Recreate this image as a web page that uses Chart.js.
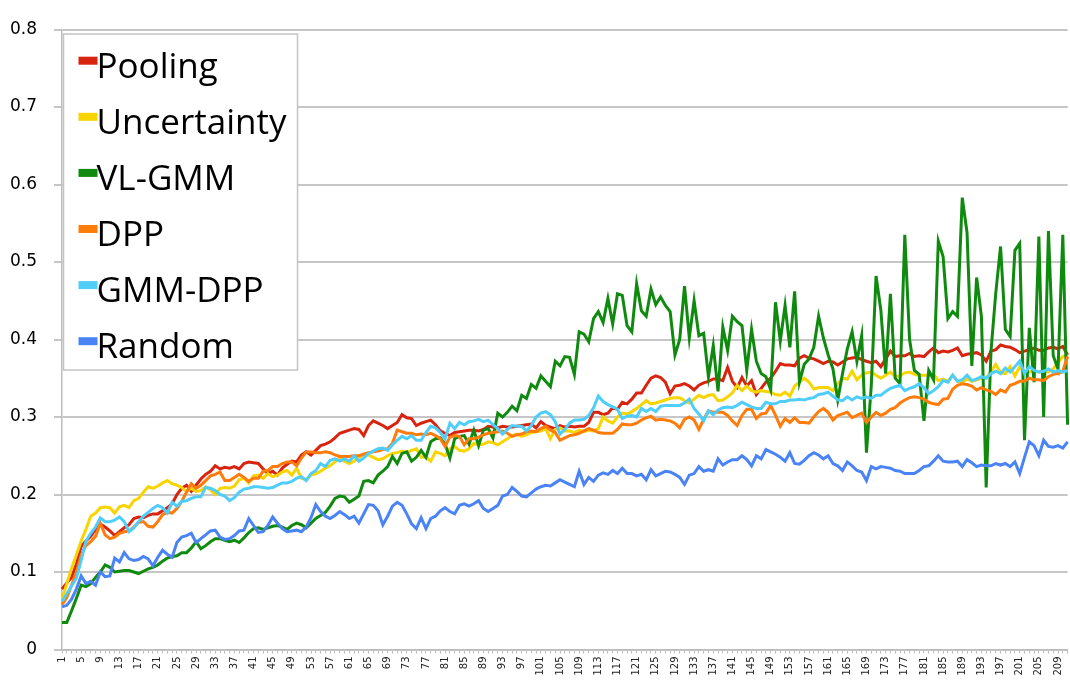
<!DOCTYPE html>
<html>
<head>
<meta charset="utf-8">
<script src="https://cdn.jsdelivr.net/npm/chart.js@4.4.0/dist/chart.umd.min.js"></script>
<style>
  html, body { margin: 0; padding: 0; background: #fff; }
  #wrap { width: 1070px; height: 682px; }
</style>
</head>
<body>
<div id="wrap"><canvas id="chart" width="1070" height="682"></canvas></div>
<script>
// categories 1..211, every 4th one gets a tick label
const categories = Array.from({ length: 211 }, (_, i) => String(i + 1));
const yTicks = [0, 0.1, 0.2, 0.3, 0.4, 0.5, 0.6, 0.7, 0.8];

const pooling = [
  0.078,0.086,0.093,0.110,0.133,0.140,0.146,0.155,0.162,0.158,
  0.153,0.147,0.152,0.157,0.161,0.169,0.171,0.170,0.173,0.175,
  0.175,0.179,0.183,0.188,0.200,0.208,0.212,0.204,0.212,0.220,
  0.226,0.230,0.237,0.233,0.235,0.234,0.236,0.233,0.240,0.242,
  0.241,0.240,0.233,0.227,0.230,0.225,0.234,0.239,0.243,0.242,
  0.251,0.255,0.251,0.257,0.263,0.265,0.268,0.273,0.279,0.281,
  0.283,0.285,0.284,0.276,0.289,0.295,0.292,0.289,0.285,0.289,
  0.293,0.303,0.299,0.298,0.289,0.292,0.294,0.296,0.290,0.282,
  0.279,0.276,0.280,0.281,0.282,0.283,0.283,0.282,0.284,0.288,
  0.287,0.286,0.288,0.287,0.287,0.288,0.289,0.290,0.291,0.286,
  0.294,0.289,0.287,0.285,0.289,0.287,0.288,0.287,0.288,0.288,
  0.293,0.306,0.306,0.303,0.305,0.312,0.310,0.319,0.317,0.323,
  0.331,0.331,0.341,0.350,0.353,0.351,0.345,0.330,0.340,0.341,
  0.343,0.340,0.335,0.341,0.344,0.346,0.349,0.349,0.347,0.364,
  0.346,0.338,0.351,0.340,0.347,0.329,0.337,0.345,0.350,0.359,
  0.369,0.367,0.367,0.366,0.376,0.379,0.376,0.375,0.372,0.369,
  0.372,0.371,0.367,0.371,0.375,0.376,0.377,0.374,0.372,0.370,
  0.372,0.365,0.375,0.385,0.378,0.379,0.379,0.382,0.378,0.379,
  0.378,0.384,0.389,0.383,0.385,0.384,0.386,0.389,0.379,0.381,
  0.382,0.383,0.380,0.372,0.385,0.387,0.393,0.391,0.390,0.387,
  0.383,0.385,0.387,0.389,0.386,0.386,0.389,0.390,0.388,0.391,
  0.380
];
const uncertainty = [
  0.065,0.085,0.105,0.122,0.140,0.155,0.172,0.176,0.183,0.184,
  0.183,0.176,0.184,0.186,0.183,0.192,0.195,0.203,0.210,0.208,
  0.211,0.215,0.218,0.214,0.212,0.209,0.204,0.208,0.204,0.205,
  0.210,0.206,0.200,0.208,0.209,0.208,0.211,0.219,0.221,0.215,
  0.224,0.225,0.221,0.227,0.223,0.225,0.229,0.231,0.225,0.234,
  0.221,0.219,0.225,0.227,0.230,0.234,0.237,0.242,0.248,0.243,
  0.240,0.243,0.248,0.252,0.251,0.248,0.245,0.246,0.250,0.253,
  0.254,0.256,0.254,0.257,0.259,0.248,0.248,0.243,0.255,0.253,
  0.250,0.259,0.262,0.257,0.256,0.259,0.266,0.264,0.265,0.268,
  0.267,0.264,0.268,0.272,0.276,0.278,0.275,0.277,0.280,0.281,
  0.282,0.285,0.272,0.284,0.286,0.282,0.282,0.280,0.283,0.281,
  0.283,0.282,0.285,0.300,0.295,0.292,0.300,0.305,0.304,0.307,
  0.311,0.316,0.321,0.317,0.318,0.320,0.322,0.324,0.325,0.325,
  0.321,0.318,0.323,0.328,0.325,0.328,0.329,0.321,0.322,0.326,
  0.331,0.341,0.334,0.340,0.334,0.332,0.334,0.333,0.332,0.329,
  0.328,0.332,0.327,0.340,0.345,0.350,0.345,0.336,0.338,0.338,
  0.338,0.334,0.343,0.350,0.349,0.359,0.348,0.354,0.357,0.358,
  0.354,0.350,0.354,0.358,0.352,0.353,0.357,0.358,0.355,0.354,
  0.354,0.354,0.355,0.347,0.349,0.346,0.354,0.346,0.345,0.349,
  0.346,0.348,0.350,0.350,0.359,0.368,0.357,0.356,0.365,0.353,
  0.365,0.358,0.358,0.360,0.358,0.360,0.358,0.362,0.370,0.378,
  0.380
];
const vlGmm = [
  0.035,0.035,0.050,0.066,0.083,0.081,0.085,0.093,0.100,0.109,
  0.106,0.100,0.101,0.102,0.102,0.100,0.098,0.101,0.104,0.106,
  0.109,0.114,0.118,0.120,0.121,0.125,0.125,0.131,0.139,0.130,
  0.134,0.139,0.143,0.143,0.141,0.139,0.141,0.138,0.144,0.151,
  0.156,0.157,0.155,0.157,0.159,0.160,0.158,0.155,0.160,0.163,
  0.161,0.157,0.163,0.169,0.173,0.177,0.185,0.195,0.198,0.197,
  0.190,0.194,0.198,0.217,0.218,0.215,0.225,0.230,0.236,0.249,
  0.240,0.253,0.255,0.243,0.248,0.257,0.248,0.268,0.272,0.273,
  0.265,0.247,0.272,0.275,0.276,0.265,0.283,0.263,0.283,0.285,
  0.273,0.305,0.300,0.306,0.314,0.308,0.328,0.324,0.342,0.337,
  0.353,0.346,0.339,0.372,0.366,0.378,0.377,0.355,0.410,0.407,
  0.397,0.427,0.436,0.422,0.453,0.420,0.459,0.457,0.418,0.410,
  0.472,0.437,0.430,0.465,0.445,0.455,0.444,0.436,0.380,0.400,
  0.469,0.402,0.450,0.405,0.408,0.352,0.392,0.333,0.416,0.386,
  0.430,0.423,0.418,0.360,0.413,0.372,0.356,0.352,0.335,0.448,
  0.398,0.444,0.390,0.462,0.345,0.368,0.375,0.390,0.430,0.402,
  0.380,0.362,0.322,0.356,0.388,0.410,0.372,0.405,0.254,0.340,
  0.482,0.438,0.356,0.459,0.350,0.343,0.535,0.400,0.360,0.355,
  0.295,0.360,0.348,0.527,0.507,0.427,0.436,0.430,0.583,0.538,
  0.366,0.480,0.430,0.209,0.385,0.460,0.520,0.413,0.404,0.515,
  0.524,0.270,0.415,0.345,0.533,0.300,0.540,0.379,0.362,0.535,
  0.290
];
const dpp = [
  0.058,0.067,0.083,0.100,0.122,0.134,0.139,0.146,0.163,0.148,
  0.143,0.145,0.150,0.152,0.153,0.158,0.164,0.165,0.159,0.158,
  0.165,0.174,0.177,0.176,0.182,0.191,0.203,0.214,0.208,0.212,
  0.218,0.224,0.226,0.229,0.218,0.218,0.222,0.226,0.222,0.217,
  0.221,0.221,0.230,0.231,0.236,0.236,0.240,0.242,0.242,0.237,
  0.247,0.255,0.255,0.254,0.254,0.255,0.254,0.251,0.249,0.249,
  0.249,0.250,0.250,0.252,0.254,0.255,0.256,0.258,0.259,0.266,
  0.283,0.281,0.279,0.279,0.277,0.278,0.277,0.279,0.276,0.272,
  0.262,0.274,0.276,0.275,0.264,0.272,0.272,0.274,0.277,0.279,
  0.280,0.281,0.282,0.279,0.275,0.277,0.278,0.281,0.282,0.281,
  0.285,0.288,0.283,0.280,0.270,0.273,0.276,0.277,0.279,0.282,
  0.285,0.283,0.280,0.279,0.279,0.279,0.284,0.291,0.290,0.290,
  0.292,0.296,0.299,0.301,0.296,0.297,0.296,0.295,0.292,0.286,
  0.297,0.300,0.296,0.284,0.297,0.308,0.306,0.306,0.306,0.302,
  0.295,0.289,0.302,0.310,0.310,0.298,0.304,0.305,0.315,0.302,
  0.288,0.298,0.293,0.299,0.293,0.293,0.292,0.300,0.307,0.311,
  0.306,0.296,0.302,0.304,0.306,0.299,0.302,0.305,0.293,0.300,
  0.306,0.302,0.305,0.310,0.312,0.318,0.322,0.325,0.326,0.325,
  0.323,0.319,0.317,0.316,0.323,0.324,0.336,0.341,0.343,0.342,
  0.340,0.335,0.338,0.335,0.333,0.329,0.335,0.332,0.341,0.343,
  0.346,0.346,0.350,0.348,0.348,0.347,0.352,0.355,0.356,0.359,
  0.378
];
const gmmDpp = [
  0.062,0.072,0.082,0.092,0.115,0.140,0.150,0.158,0.170,0.165,
  0.165,0.167,0.171,0.165,0.152,0.157,0.165,0.172,0.177,0.182,
  0.186,0.183,0.176,0.190,0.185,0.191,0.192,0.195,0.197,0.197,
  0.209,0.208,0.205,0.200,0.198,0.192,0.196,0.203,0.207,0.208,
  0.210,0.210,0.209,0.208,0.209,0.212,0.215,0.215,0.217,0.221,
  0.223,0.218,0.227,0.231,0.240,0.236,0.244,0.246,0.243,0.246,
  0.243,0.250,0.243,0.247,0.253,0.256,0.259,0.260,0.257,0.264,
  0.270,0.275,0.272,0.276,0.270,0.270,0.280,0.288,0.286,0.280,
  0.272,0.292,0.285,0.293,0.290,0.294,0.295,0.297,0.294,0.296,
  0.290,0.285,0.278,0.284,0.289,0.288,0.288,0.282,0.289,0.300,
  0.305,0.307,0.303,0.294,0.278,0.284,0.292,0.296,0.296,0.297,
  0.302,0.312,0.327,0.320,0.316,0.313,0.310,0.298,0.301,0.302,
  0.300,0.311,0.307,0.311,0.307,0.314,0.315,0.315,0.315,0.315,
  0.318,0.323,0.311,0.304,0.295,0.308,0.303,0.309,0.312,0.313,
  0.312,0.315,0.319,0.316,0.313,0.311,0.311,0.319,0.317,0.317,
  0.320,0.320,0.322,0.322,0.323,0.322,0.324,0.325,0.329,0.330,
  0.332,0.327,0.322,0.321,0.326,0.322,0.326,0.324,0.326,0.324,
  0.328,0.328,0.333,0.337,0.339,0.341,0.334,0.337,0.339,0.343,
  0.338,0.330,0.334,0.339,0.347,0.345,0.354,0.346,0.348,0.354,
  0.347,0.349,0.352,0.350,0.356,0.359,0.356,0.363,0.358,0.365,
  0.372,0.356,0.365,0.360,0.358,0.359,0.362,0.358,0.360,0.358,
  0.360
];
const random = [
  0.055,0.057,0.065,0.078,0.095,0.085,0.088,0.083,0.100,0.094,
  0.095,0.118,0.113,0.125,0.117,0.115,0.116,0.120,0.117,0.108,
  0.119,0.128,0.123,0.119,0.138,0.145,0.147,0.150,0.138,0.143,
  0.148,0.153,0.154,0.145,0.142,0.143,0.147,0.153,0.154,0.169,
  0.160,0.151,0.152,0.160,0.171,0.163,0.156,0.152,0.153,0.154,
  0.152,0.158,0.170,0.187,0.178,0.172,0.169,0.173,0.178,0.174,
  0.169,0.172,0.163,0.175,0.187,0.186,0.179,0.161,0.172,0.185,
  0.190,0.186,0.175,0.162,0.156,0.170,0.156,0.169,0.172,0.179,
  0.183,0.178,0.175,0.186,0.188,0.185,0.188,0.192,0.182,0.178,
  0.182,0.186,0.198,0.200,0.209,0.204,0.198,0.197,0.202,0.207,
  0.210,0.212,0.211,0.215,0.219,0.216,0.213,0.210,0.230,0.213,
  0.222,0.217,0.225,0.228,0.226,0.231,0.227,0.234,0.227,0.227,
  0.224,0.226,0.219,0.232,0.224,0.227,0.230,0.229,0.226,0.222,
  0.213,0.225,0.227,0.236,0.230,0.232,0.230,0.246,0.238,0.242,
  0.245,0.245,0.250,0.245,0.237,0.250,0.246,0.258,0.255,0.252,
  0.248,0.243,0.254,0.240,0.239,0.244,0.250,0.254,0.251,0.246,
  0.250,0.240,0.237,0.231,0.242,0.237,0.231,0.229,0.218,0.236,
  0.233,0.236,0.235,0.234,0.231,0.230,0.227,0.227,0.227,0.231,
  0.236,0.237,0.243,0.250,0.243,0.242,0.242,0.243,0.236,0.245,
  0.241,0.236,0.238,0.237,0.237,0.240,0.238,0.240,0.236,0.242,
  0.227,0.248,0.268,0.263,0.250,0.270,0.262,0.261,0.263,0.260,
  0.268
];

const SERIES = [
  { label: 'Pooling', data: pooling, color: '#d8230f' },
  { label: 'Uncertainty', data: uncertainty, color: '#f8d400' },
  { label: 'VL-GMM', data: vlGmm, color: '#0f8a0f' },
  { label: 'DPP', data: dpp, color: '#ff7b0a' },
  { label: 'GMM-DPP', data: gmmDpp, color: '#4fcdfb' },
  { label: 'Random', data: random, color: '#4a83f6' }
];

// legend drawn as a bordered box inside the plot, like the original
const boxLegend = {
  id: 'boxLegend',
  afterDraw(chart) {
    const ctx = chart.ctx;
    const area = chart.chartArea;
    const x = area.left + 1.5, y = area.top + 4.5;
    const w = 234, h = 336;
    ctx.save();
    ctx.fillStyle = '#fff';
    ctx.fillRect(x, y, w, h);
    ctx.strokeStyle = '#c4c4c4';
    ctx.lineWidth = 1.5;
    ctx.strokeRect(x, y, w, h);
    ctx.font = '35px "Open Sans"';
    ctx.textBaseline = 'alphabetic';
    chart.data.datasets.forEach((ds, i) => {
      const base = y + 43.7 + i * 56.1;
      ctx.fillStyle = ds.borderColor;
      ctx.fillRect(x + 15, base - 21, 19, 8);
      ctx.fillStyle = '#000';
      ctx.fillText(ds.label, x + 33, base);
    });
    ctx.restore();
  }
};

Chart.defaults.font.family = '"DejaVu Sans", sans-serif';
Chart.defaults.color = '#000';

new Chart(document.getElementById('chart'), {
  type: 'line',
  data: {
    labels: categories,
    datasets: SERIES.map((s, i) => ({
      label: s.label,
      data: s.data,
      borderColor: s.color,
      backgroundColor: s.color,
      borderWidth: 3,
      pointRadius: 0,
      tension: 0,
      fill: false,
      order: SERIES.length - i
    }))
  },
  options: {
    responsive: false,
    animation: false,
    devicePixelRatio: 1,
    layout: { padding: { left: 10, top: 29.5, right: 2.4, bottom: 0 } },
    plugins: {
      legend: { display: false },
      tooltip: { enabled: false }
    },
    scales: {
      x: {
        type: 'category',
        offset: false,
        grid: { drawOnChartArea: false, drawTicks: true, tickLength: 4, color: '#bdbdbd' },
        border: { color: '#bdbdbd', width: 1.5 },
        ticks: {
          autoSkip: false,
          minRotation: 90,
          maxRotation: 90,
          padding: 3,
          font: { size: 10 },
          color: '#222',
          callback: (v, i) => (i % 4 === 0 ? categories[i] : '')
        },
        afterFit: (s) => { s.height = 32.5; s.paddingLeft = 0; s.paddingRight = 0; }
      },
      y: {
        min: 0,
        max: 0.8,
        grid: { color: '#c6c6c6', lineWidth: 2, tickLength: 8 },
        border: { color: '#bdbdbd', width: 1.5 },
        afterBuildTicks: (s) => { s.ticks = yTicks.map(v => ({ value: v })); },
        ticks: {
          padding: 17,
          font: { size: 17 },
          color: '#000',
          callback: (v) => String(+v.toFixed(1))
        },
        afterFit: (s) => { s.width = 52; s.paddingTop = 0; s.paddingBottom = 0; }
      }
    }
  },
  plugins: [boxLegend]
});
</script>
</body>
</html>
